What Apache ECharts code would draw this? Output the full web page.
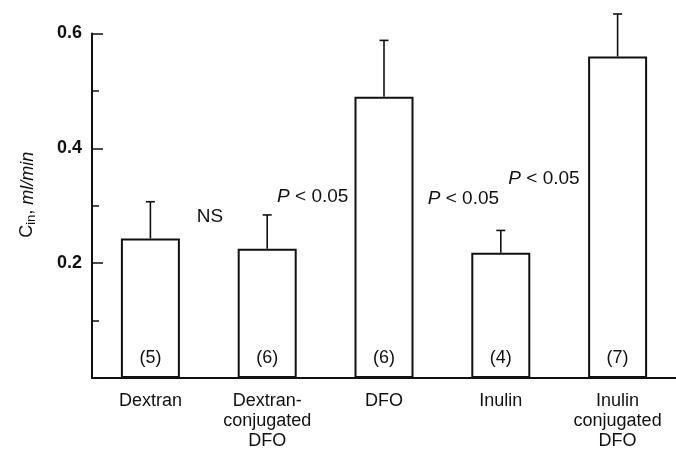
<!DOCTYPE html>
<html>
<head>
<meta charset="utf-8">
<script src="https://cdn.jsdelivr.net/npm/echarts@6/dist/echarts.min.js"></script>
<style>html,body{margin:0;padding:0;background:#fff}#c{width:676px;height:451px}</style>
</head>
<body>
<div id="c"></div>
<script>
const categories = ['Dextran', 'Dextran-\nconjugated\nDFO', 'DFO', 'Inulin', 'Inulin\nconjugated\nDFO'];
const means = [0.243, 0.225, 0.490, 0.218, 0.560];
const errTops = [0.307, 0.284, 0.588, 0.257, 0.634];
const counts = ['(5)', '(6)', '(6)', '(4)', '(7)'];
const yTicks = [0.2, 0.4, 0.6];
const annotationText = ['NS', 'P < 0.05', 'P < 0.05', 'P < 0.05'];
const annotationX = [0.51, 1.39, 2.68, 3.37];
const annotationY = [0.281, 0.316, 0.312, 0.347];

const FONT = 'Liberation Sans, Arial, sans-serif';
const chart = echarts.init(document.getElementById('c'), null, {renderer: 'canvas'});

chart.setOption({
  backgroundColor: '#fff',
  animation: false,
  grid: {left: 92, right: -2, top: 33.5, bottom: 70},
  xAxis: [{
    type: 'category',
    data: categories,
    axisLine: {lineStyle: {color: '#111', width: 2}},
    axisTick: {show: false},
    axisLabel: {color: '#111', fontFamily: FONT, fontSize: 18, lineHeight: 20, margin: 13, interval: 0}
  }, {
    type: 'value', min: -0.5, max: 4.5, show: false
  }],
  yAxis: {
    type: 'value', min: 0, max: 0.6, interval: 0.2,
    axisLine: {show: true, onZero: false, lineStyle: {color: '#111', width: 2}},
    axisTick: {show: true, inside: true, length: 11, lineStyle: {color: '#111', width: 1.5}},
    minorTick: {show: true, splitNumber: 2, length: 7, lineStyle: {color: '#111', width: 1.5}},
    splitLine: {show: false},
    axisLabel: {
      color: '#111', fontFamily: FONT, fontSize: 18, fontWeight: 'bold', margin: 10,
      formatter: v => yTicks.some(t => Math.abs(t - v) < 1e-9) ? v.toFixed(1) : ''
    },
    name: '{c|C}{s|in}{c|, }{i|ml/min}',
    nameLocation: 'middle',
    nameGap: 54,
    nameTextStyle: {
      color: '#111', fontFamily: FONT, fontSize: 18,
      padding: [0, 0, 0, 22],
      rich: {
        c: {fontSize: 18, fontFamily: FONT, color: '#111'},
        s: {fontSize: 13, fontFamily: FONT, color: '#111', verticalAlign: 'bottom', padding: [8, 0, 0, 0]},
        i: {fontSize: 18, fontFamily: FONT, fontStyle: 'italic', color: '#111'}
      }
    }
  },
  series: [{
    type: 'bar',
    data: means,
    barWidth: 59,
    itemStyle: {color: '#fff', borderColor: '#111', borderWidth: 2},
    label: {
      show: true, position: 'insideBottom', distance: 11,
      color: '#111', fontFamily: FONT, fontSize: 18,
      formatter: p => counts[p.dataIndex]
    }
  }, {
    type: 'custom',
    clip: false,
    data: errTops.map((e, i) => [i, means[i], e]),
    renderItem: (params, api) => {
      const i = api.value(0);
      const b = api.coord([i, api.value(1)]);
      const t = api.coord([i, api.value(2)]);
      const st = {stroke: '#111', lineWidth: 1.6};
      return {type: 'group', children: [
        {type: 'line', shape: {x1: b[0], y1: b[1], x2: t[0], y2: t[1]}, style: st},
        {type: 'line', shape: {x1: t[0] - 4.5, y1: t[1], x2: t[0] + 4.5, y2: t[1]}, style: st}
      ]};
    },
    z: 3
  }, {
    type: 'scatter',
    xAxisIndex: 1,
    symbolSize: 0,
    itemStyle: {opacity: 1},
    data: annotationX.map((x, i) => [x, annotationY[i]]),
    label: {
      show: true, position: 'inside',
      color: '#111', fontFamily: FONT, fontSize: 19, textBorderWidth: 0,
      formatter: p => {
        const t = annotationText[p.dataIndex];
        return t.startsWith('P') ? '{p|P}' + t.slice(1) : t;
      },
      rich: {p: {fontStyle: 'italic', fontFamily: FONT, fontSize: 19, color: '#111'}}
    }
  }]
});
</script>
</body>
</html>
